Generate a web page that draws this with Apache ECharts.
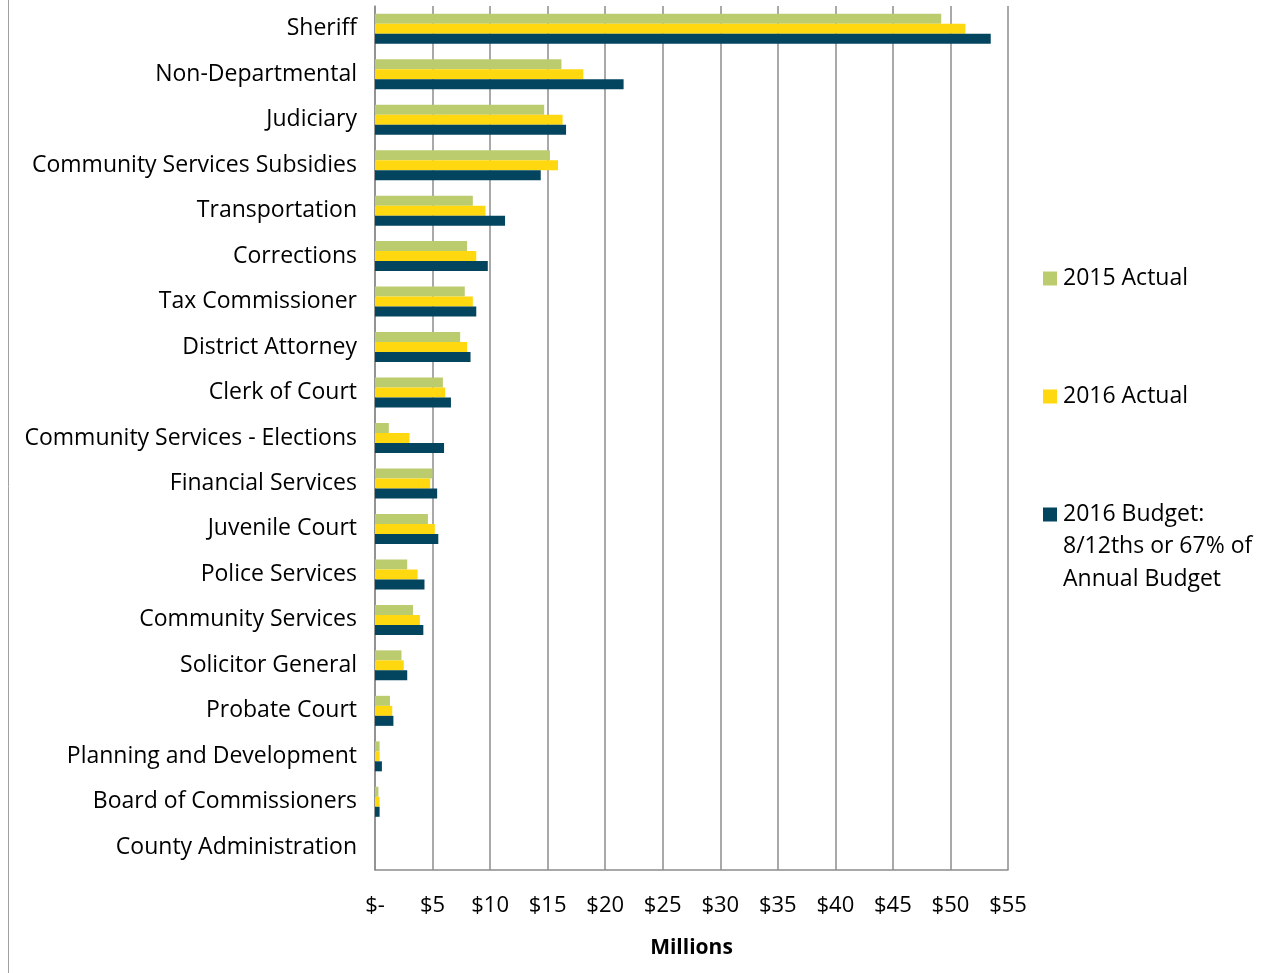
<!DOCTYPE html>
<html>
<head>
<meta charset="utf-8">
<style>
  html, body { margin: 0; padding: 0; background: #fff; }
  #chart { width: 1283px; height: 973px; }
</style>
<script src="https://cdn.jsdelivr.net/npm/echarts@6/dist/echarts.min.js"></script>
</head>
<body>
<div id="chart"></div>
<script>
// departments, top to bottom
const categories = [
  'Sheriff', 'Non-Departmental', 'Judiciary', 'Community Services Subsidies',
  'Transportation', 'Corrections', 'Tax Commissioner', 'District Attorney',
  'Clerk of Court', 'Community Services - Elections', 'Financial Services',
  'Juvenile Court', 'Police Services', 'Community Services', 'Solicitor General',
  'Probate Court', 'Planning and Development', 'Board of Commissioners',
  'County Administration'
]
// values in millions of dollars
const actual2015 = [49.2, 16.2, 14.7, 15.2, 8.5, 8.0, 7.8, 7.4, 5.9, 1.2, 5.0, 4.6, 2.8, 3.3, 2.3, 1.3, 0.4, 0.3, 0]
const actual2016 = [51.3, 18.1, 16.3, 15.9, 9.6, 8.8, 8.5, 8.0, 6.1, 3.0, 4.8, 5.2, 3.7, 3.9, 2.5, 1.5, 0.4, 0.4, 0]
const budget2016 = [53.5, 21.6, 16.6, 14.4, 11.3, 9.8, 8.8, 8.3, 6.6, 6.0, 5.4, 5.5, 4.3, 4.2, 2.8, 1.6, 0.6, 0.4, 0]
const xTicks = [0, 5, 10, 15, 20, 25, 30, 35, 40, 45, 50, 55]

const seriesNames = ['2015 Actual', '2016 Actual', '2016 Budget: 8/12ths or 67% of Annual Budget']
const colors = ['#bbcc6e', '#ffd80f', '#03445e']
const font = '"Open Sans", sans-serif'
const gridColor = '#8c8c8c'

const chart = echarts.init(document.getElementById('chart'))

function legendAt(name, top, label) {
  return {
    data: [name],
    orient: 'vertical',
    left: 1043,
    top: top,
    padding: 0,
    itemWidth: 14,
    itemHeight: 14,
    icon: 'rect',
    itemGap: 0,
    selectedMode: false,
    formatter() { return label },
    textStyle: { fontFamily: font, fontSize: 23, color: '#000', padding: [0, 0, 0, 1] }
  }
}

const option = {
  backgroundColor: '#fff',
  animation: false,
  color: colors,
  grid: { left: 375, right: 275, top: 6, bottom: 103, containLabel: false },
  legend: [
    legendAt(seriesNames[0], 267, '2015 Actual'),
    legendAt(seriesNames[1], 385, '2016 Actual'),
    legendAt(seriesNames[2], 503, '2016 Budget:')
  ],
  graphic: [
    {
      type: 'line',
      shape: { x1: 8.5, y1: 0, x2: 8.5, y2: 973 },
      style: { stroke: '#a0a0a0', lineWidth: 1 }
    },
    {
      type: 'text',
      left: 1063,
      top: 530,
      style: {
        text: '8/12ths or 67% of\nAnnual Budget',
        font: '23px ' + font,
        fill: '#000',
        lineHeight: 33
      }
    }
  ],
  xAxis: {
    type: 'value',
    min: xTicks[0],
    max: xTicks[xTicks.length - 1],
    interval: 5,
    name: 'Millions',
    nameLocation: 'middle',
    nameGap: 68,
    nameTextStyle: { fontFamily: font, fontSize: 21, fontWeight: 'bold', color: '#000' },
    axisLine: { show: true, lineStyle: { color: gridColor, width: 1.5 } },
    axisTick: { show: false },
    splitLine: { show: true, lineStyle: { color: gridColor, width: 1.5 } },
    axisLabel: {
      margin: 25,
      fontFamily: font,
      fontSize: 22,
      color: '#000',
      formatter(v) { return v === 0 ? '$-' : '$' + v }
    }
  },
  yAxis: {
    type: 'category',
    inverse: true,
    data: categories,
    axisLine: { show: true, lineStyle: { color: gridColor, width: 1.5 } },
    axisTick: { show: false },
    axisLabel: { margin: 18, fontFamily: font, fontSize: 23, color: '#000', padding: [3, 0, 0, 0] }
  },
  series: [
    { name: seriesNames[0], type: 'bar', data: actual2015, barGap: '0%', barCategoryGap: '34%' },
    { name: seriesNames[1], type: 'bar', data: actual2016, barGap: '0%', barCategoryGap: '34%' },
    { name: seriesNames[2], type: 'bar', data: budget2016, barGap: '0%', barCategoryGap: '34%' }
  ]
}

chart.setOption(option)
</script>
</body>
</html>
